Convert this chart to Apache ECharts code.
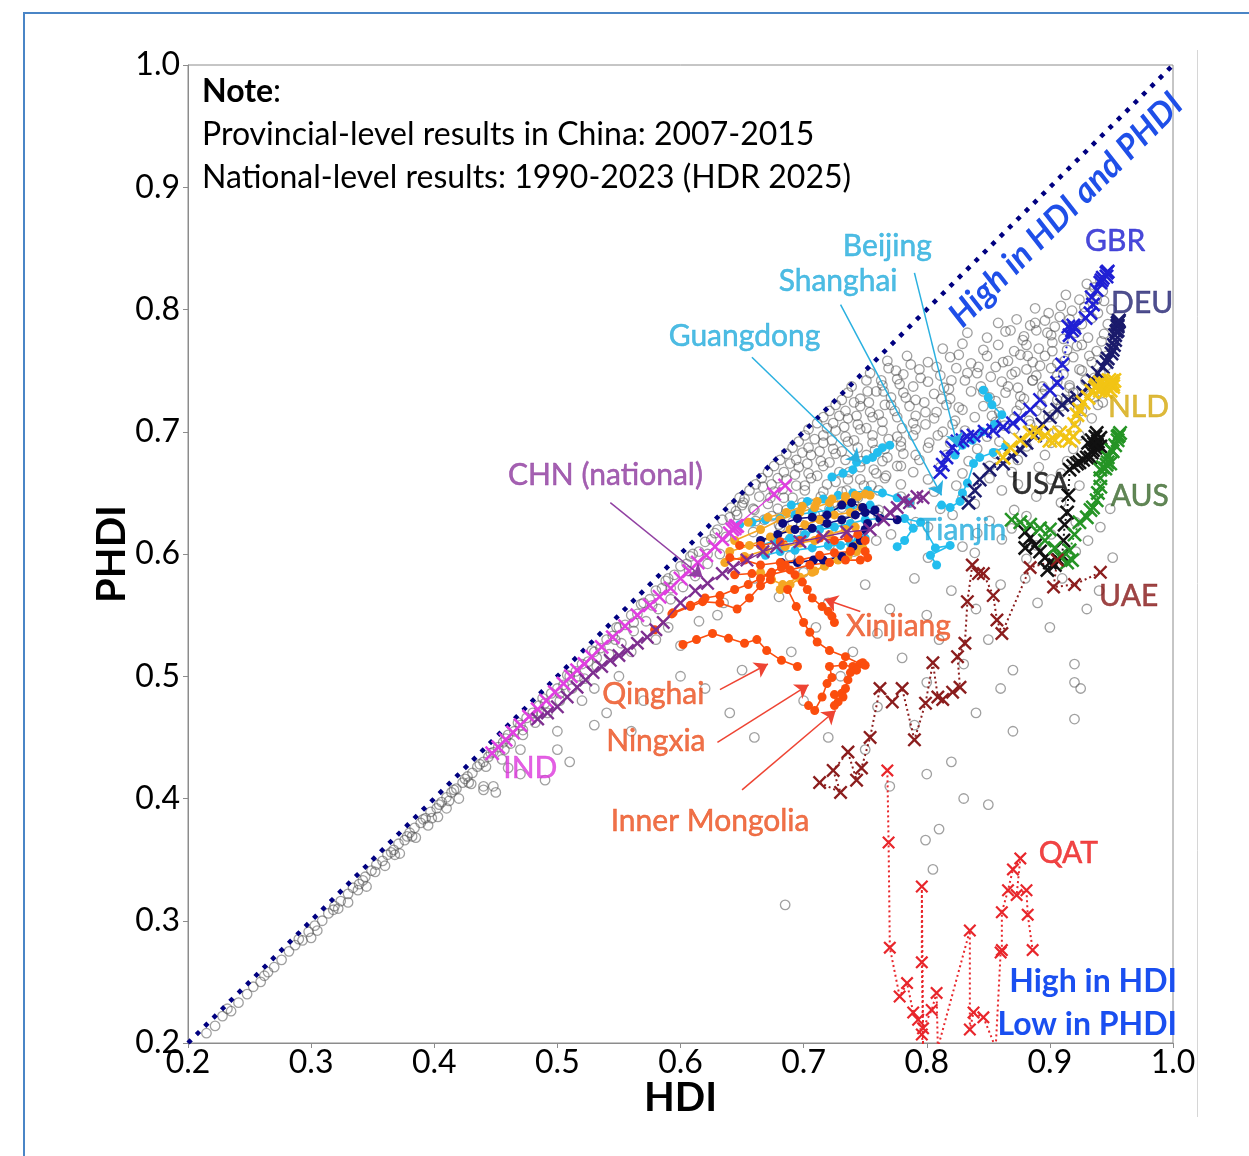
<!DOCTYPE html>
<html><head><meta charset="utf-8">
<script src="https://cdn.jsdelivr.net/npm/echarts@6/dist/echarts.min.js"></script>
<style>html,body{margin:0;padding:0;background:#fff}#c{width:1249px;height:1156px}</style>
</head><body><div id="c"></div>
<script>
// ---------------- DATA ----------------
const axisTicks = [0.2,0.3,0.4,0.5,0.6,0.7,0.8,0.9,1.0];
const diagonal = [[0.2,0.2],[1.0,1.0]];

// background: all national & provincial results (grey hollow circles)
const greyBand = [[0.215,0.208],[0.222,0.214],[0.228,0.222],[0.235,0.226],[0.241,0.233],[0.248,0.240],[0.253,0.246],[0.259,0.250],[0.265,0.258],[0.270,0.262],[0.276,0.268],[0.282,0.275],[0.287,0.280],[0.293,0.284],[0.298,0.291],[0.303,0.296],[0.309,0.300],[0.314,0.306],[0.319,0.312],[0.324,0.316],[0.330,0.322],[0.334,0.327],[0.339,0.330],[0.344,0.336],[0.349,0.341],[0.353,0.346],[0.358,0.349],[0.362,0.354],[0.367,0.358],[0.371,0.363],[0.376,0.366],[0.380,0.372],[0.384,0.376],[0.389,0.380],[0.393,0.384],[0.397,0.389],[0.402,0.392],[0.406,0.397],[0.410,0.401],[0.414,0.405],[0.418,0.408],[0.423,0.413],[0.427,0.418],[0.431,0.421],[0.435,0.426],[0.440,0.430],[0.444,0.434],[0.448,0.438],[0.452,0.442],[0.456,0.446],
[0.300,0.286],[0.345,0.328],[0.372,0.355],[0.385,0.368],[0.395,0.378],[0.403,0.385],[0.410,0.392],[0.420,0.400],[0.430,0.412],[0.440,0.407],[0.448,0.410],[0.455,0.432],[0.330,0.315],[0.360,0.345],
[0.232,0.228],[0.262,0.255],[0.290,0.285],[0.318,0.309],[0.342,0.333],[0.365,0.356],[0.378,0.369],[0.391,0.383],[0.404,0.395],[0.416,0.407],[0.425,0.416],[0.437,0.428],[0.446,0.437],[0.458,0.449],
[0.460,0.452],[0.465,0.455],[0.470,0.460],[0.475,0.466],[0.480,0.470],[0.485,0.476],[0.490,0.478],[0.495,0.486],[0.500,0.490],[0.505,0.493],[0.510,0.500],[0.515,0.504],[0.520,0.510],[0.525,0.512],[0.530,0.520],[0.535,0.523],[0.540,0.530],[0.545,0.533],[0.550,0.540],[0.555,0.542],[0.560,0.550],[0.565,0.551],[0.570,0.560],[0.575,0.563],[0.580,0.570],[0.585,0.572],[0.590,0.580],[0.595,0.583],[0.600,0.590],[0.605,0.592],[0.610,0.600],[0.615,0.602],[0.620,0.610],[0.625,0.612],[0.630,0.620],
[0.462,0.445],[0.472,0.452],[0.482,0.462],[0.492,0.470],[0.502,0.480],[0.512,0.490],[0.522,0.498],[0.532,0.508],[0.542,0.518],[0.552,0.527],[0.562,0.537],[0.572,0.545],[0.582,0.555],[0.592,0.563],[0.602,0.573],[0.612,0.582],[0.622,0.592],[0.632,0.600],
[0.468,0.462],[0.488,0.482],[0.508,0.501],[0.528,0.521],[0.548,0.540],[0.568,0.559],[0.588,0.578],[0.608,0.598],[0.628,0.617],[0.640,0.630],[0.645,0.635],[0.650,0.640],
[0.305,0.292],[0.322,0.310],[0.338,0.325],[0.352,0.340],[0.368,0.354],[0.382,0.369],[0.398,0.384],[0.412,0.398],[0.428,0.413],[0.442,0.426],[0.457,0.440],[0.472,0.456],[0.487,0.470],[0.502,0.486],[0.517,0.500],[0.532,0.515],[0.547,0.530],[0.562,0.544],[0.577,0.558],[0.592,0.572],[0.607,0.586],[0.622,0.600],[0.637,0.614]];
const greyCloud = [[0.930,0.821],[0.936,0.818],[0.941,0.824],
[0.913,0.812],[0.924,0.808],[0.933,0.813],[0.944,0.807],
[0.888,0.801],[0.899,0.797],[0.909,0.803],[0.918,0.799],[0.928,0.802],[0.939,0.797],[0.950,0.800],
[0.858,0.789],[0.873,0.792],[0.884,0.787],[0.896,0.791],[0.904,0.786],[0.916,0.792],[0.926,0.788],[0.934,0.793],[0.947,0.788],
[0.833,0.781],[0.849,0.777],[0.864,0.782],[0.879,0.778],[0.889,0.783],[0.901,0.779],[0.911,0.776],[0.921,0.781],[0.931,0.777],[0.944,0.780],
[0.813,0.768],[0.829,0.772],[0.846,0.767],[0.858,0.771],[0.871,0.766],[0.881,0.771],[0.891,0.768],[0.902,0.773],[0.914,0.767],[0.926,0.771],[0.938,0.766],[0.951,0.770],
[0.768,0.758],[0.784,0.762],[0.801,0.757],[0.819,0.761],[0.836,0.756],[0.849,0.762],[0.866,0.758],[0.876,0.763],[0.886,0.757],[0.896,0.762],[0.906,0.756],[0.919,0.761],[0.934,0.757],[0.946,0.762],
[0.754,0.748],[0.769,0.752],[0.781,0.747],[0.794,0.751],[0.811,0.746],[0.824,0.752],[0.841,0.748],[0.856,0.753],[0.869,0.747],[0.881,0.751],[0.889,0.746],[0.901,0.752],[0.911,0.747],[0.924,0.751],[0.941,0.748],
[0.739,0.737],[0.751,0.742],[0.764,0.738],[0.776,0.743],[0.789,0.737],[0.801,0.741],[0.814,0.736],[0.831,0.742],[0.844,0.737],[0.861,0.741],[0.874,0.736],[0.886,0.742],[0.894,0.737],[0.906,0.741],[0.916,0.736],[0.929,0.742],[0.944,0.738],
[0.731,0.726],[0.736,0.732],[0.746,0.727],[0.759,0.733],[0.771,0.728],[0.781,0.732],[0.791,0.726],[0.806,0.731],[0.819,0.727],[0.836,0.733],[0.851,0.728],[0.864,0.732],[0.879,0.727],[0.894,0.731],[0.906,0.726],[0.919,0.732],[0.936,0.728],
[0.721,0.717],[0.726,0.722],[0.734,0.717],[0.746,0.721],[0.754,0.716],[0.766,0.722],[0.774,0.717],[0.786,0.721],[0.799,0.716],[0.816,0.722],[0.829,0.718],[0.846,0.721],[0.859,0.716],[0.876,0.722],[0.889,0.717],[0.909,0.721],[0.926,0.717],[0.939,0.722],
[0.711,0.707],[0.716,0.712],[0.724,0.707],[0.736,0.711],[0.744,0.706],[0.756,0.712],[0.764,0.708],[0.776,0.712],[0.789,0.707],[0.806,0.711],[0.821,0.706],[0.839,0.712],[0.856,0.708],[0.871,0.711],[0.884,0.706],[0.899,0.712],[0.921,0.708],[0.934,0.711],
[0.701,0.697],[0.704,0.702],[0.716,0.697],[0.726,0.701],[0.734,0.696],[0.746,0.702],[0.756,0.697],[0.764,0.701],[0.776,0.696],[0.791,0.702],[0.809,0.697],[0.831,0.701],[0.849,0.696],[0.871,0.702],[0.889,0.698],[0.906,0.701],[0.924,0.697],
[0.691,0.687],[0.696,0.692],[0.704,0.687],[0.716,0.691],[0.724,0.686],[0.736,0.692],[0.744,0.687],[0.756,0.691],[0.766,0.686],[0.779,0.692],[0.801,0.687],[0.819,0.691],[0.841,0.686],[0.859,0.692],[0.881,0.688],[0.901,0.691],[0.919,0.686],
[0.681,0.677],[0.686,0.682],[0.694,0.677],[0.706,0.681],[0.714,0.676],[0.726,0.682],[0.734,0.677],[0.751,0.681],[0.764,0.676],[0.781,0.682],[0.794,0.677],[0.816,0.681],[0.834,0.676],[0.856,0.682],[0.874,0.677],[0.896,0.681],[0.914,0.676],[0.936,0.682],
[0.671,0.667],[0.676,0.672],[0.684,0.667],[0.696,0.671],[0.704,0.666],[0.716,0.672],[0.729,0.667],[0.746,0.671],[0.759,0.666],[0.776,0.672],[0.789,0.667],[0.811,0.671],[0.829,0.666],[0.851,0.672],[0.869,0.667],[0.891,0.671],[0.909,0.666],
[0.661,0.657],[0.666,0.662],[0.674,0.657],[0.686,0.661],[0.694,0.656],[0.706,0.662],[0.719,0.657],[0.736,0.661],[0.749,0.656],[0.766,0.662],[0.779,0.657],[0.801,0.661],[0.824,0.656],[0.851,0.662],[0.874,0.657],[0.901,0.661],[0.924,0.656],
[0.648,0.646],[0.656,0.652],[0.664,0.647],[0.676,0.651],[0.684,0.646],[0.701,0.652],[0.714,0.647],[0.731,0.651],[0.744,0.646],[0.761,0.652],[0.779,0.647],[0.806,0.651],[0.829,0.646],[0.861,0.652],[0.889,0.647],
[0.641,0.638],[0.651,0.642],[0.659,0.637],[0.671,0.641],[0.686,0.636],[0.699,0.642],[0.721,0.637],[0.741,0.641],[0.761,0.636],[0.786,0.642],[0.811,0.637],[0.839,0.641],[0.871,0.636],[0.909,0.642],[0.949,0.637],
[0.634,0.628],[0.646,0.632],[0.661,0.627],[0.674,0.631],[0.691,0.626],[0.709,0.632],[0.736,0.627],[0.761,0.631],[0.791,0.626],[0.821,0.632],[0.851,0.627],[0.881,0.631],[0.921,0.626],
[0.659,0.618],[0.681,0.622],[0.701,0.617],[0.729,0.621],[0.771,0.616],[0.801,0.622],[0.841,0.617],[0.869,0.621],[0.901,0.616],[0.941,0.622],
[0.671,0.608],[0.689,0.612],[0.721,0.607],[0.759,0.611],[0.829,0.606],[0.861,0.612],[0.889,0.607],[0.931,0.611],
[0.689,0.598],[0.741,0.602],[0.801,0.597],[0.839,0.601],[0.881,0.596],[0.921,0.602],[0.951,0.597]];
const greyDense = [[0.652,0.645],[0.667,0.655],[0.679,0.662],[0.689,0.674],[0.699,0.683],[0.709,0.694],[0.719,0.703],[0.729,0.713],[0.741,0.724],[0.752,0.733],[0.763,0.742],[0.775,0.750],
[0.660,0.636],[0.673,0.646],[0.683,0.653],[0.693,0.665],[0.703,0.674],[0.713,0.684],[0.723,0.693],[0.733,0.704],[0.743,0.713],[0.753,0.724],[0.765,0.733],[0.778,0.739],
[0.668,0.628],[0.679,0.637],[0.691,0.646],[0.701,0.656],[0.711,0.664],[0.721,0.675],[0.731,0.684],[0.741,0.693],[0.751,0.703],[0.761,0.714],[0.771,0.722],[0.783,0.728],
[0.680,0.624],[0.694,0.632],[0.706,0.641],[0.716,0.651],[0.726,0.659],[0.737,0.667],[0.747,0.676],[0.758,0.685],[0.769,0.694],[0.780,0.703],[0.791,0.713],[0.798,0.724],
[0.698,0.624],[0.712,0.633],[0.724,0.642],[0.735,0.652],[0.746,0.661],[0.757,0.669],[0.768,0.679],[0.779,0.688],[0.789,0.697],[0.799,0.706],[0.808,0.716],[0.812,0.727],
[0.716,0.628],[0.731,0.638],[0.743,0.647],[0.755,0.656],[0.767,0.664],[0.779,0.672],[0.791,0.681],[0.802,0.691],[0.813,0.700],[0.823,0.709],[0.826,0.720],[0.818,0.735],
[0.842,0.753],[0.852,0.745],[0.862,0.757],[0.872,0.749],[0.882,0.762],[0.892,0.754],[0.902,0.766],[0.912,0.758],[0.922,0.770],[0.932,0.762],[0.942,0.774],
[0.846,0.733],[0.856,0.725],[0.866,0.737],[0.876,0.729],[0.886,0.742],[0.896,0.734],[0.906,0.746],[0.916,0.738],[0.926,0.750],[0.936,0.744],[0.946,0.754],
[0.853,0.713],[0.863,0.705],[0.873,0.717],[0.883,0.709],[0.893,0.722],[0.903,0.714],[0.913,0.726],[0.923,0.718],[0.933,0.730],[0.943,0.724],
[0.868,0.783],[0.878,0.775],[0.888,0.789],[0.898,0.781],[0.908,0.794],[0.918,0.786],[0.928,0.797],[0.938,0.808],[0.943,0.815],
[0.820,0.742],[0.826,0.763],[0.833,0.748],[0.808,0.753],[0.795,0.744],[0.787,0.755]];
const greySparse = [[0.660,0.580],[0.700,0.585],[0.750,0.575],[0.790,0.580],[0.820,0.570],[0.860,0.575],[0.880,0.580],[0.910,0.580],[0.940,0.570],[0.680,0.565],[0.720,0.560],[0.770,0.555],[0.800,0.550],[0.840,0.555],[0.890,0.560],[0.930,0.555],[0.710,0.540],[0.760,0.535],[0.810,0.530],[0.850,0.530],[0.900,0.540],[0.690,0.520],[0.740,0.520],[0.780,0.515],[0.830,0.510],[0.870,0.505],[0.920,0.510],[0.730,0.500],[0.800,0.495],[0.860,0.490],[0.920,0.495],[0.925,0.490],[0.700,0.480],[0.760,0.475],[0.840,0.470],[0.790,0.460],[0.870,0.455],[0.720,0.450],[0.750,0.440],[0.820,0.430],[0.800,0.420],[0.770,0.410],[0.830,0.400],[0.810,0.375],[0.850,0.395],[0.920,0.465],[0.650,0.505],[0.620,0.490],[0.640,0.470],[0.660,0.450],[0.600,0.500],[0.630,0.550],[0.580,0.530],[0.550,0.500],[0.520,0.480],[0.560,0.455],[0.500,0.440],[0.510,0.430],[0.530,0.460],[0.470,0.420],[0.440,0.410],[0.450,0.405],[0.490,0.415],[0.460,0.425],[0.799,0.366],[0.805,0.342],[0.685,0.313],
[0.470,0.440],[0.500,0.455],[0.530,0.490],[0.560,0.520],[0.590,0.540],[0.615,0.545],[0.635,0.560],[0.600,0.525],[0.570,0.480],[0.540,0.470]];

// national-level trajectories 1990-2023 [HDI, PHDI]
const IND = [[0.447,0.437],[0.452,0.442],[0.458,0.448],[0.464,0.454],[0.470,0.460],[0.477,0.467],[0.484,0.473],[0.491,0.480],[0.498,0.487],[0.505,0.494],[0.511,0.500],[0.516,0.505],[0.522,0.510],[0.528,0.516],[0.536,0.524],[0.545,0.532],[0.555,0.541],[0.565,0.550],[0.575,0.558],[0.583,0.565],[0.592,0.572],[0.600,0.580],[0.607,0.586],[0.614,0.593],[0.621,0.599],[0.628,0.606],[0.634,0.612],[0.640,0.617],[0.644,0.621],[0.646,0.623],[0.645,0.623],[0.642,0.620],[0.676,0.649],[0.685,0.656]];
const CHN = [[0.484,0.465],[0.492,0.470],[0.500,0.475],[0.508,0.483],[0.516,0.491],[0.523,0.497],[0.529,0.503],[0.536,0.508],[0.543,0.513],[0.550,0.517],[0.557,0.521],[0.565,0.527],[0.573,0.532],[0.580,0.538],[0.586,0.544],[0.600,0.560],[0.612,0.570],[0.622,0.576],[0.634,0.584],[0.643,0.589],[0.654,0.595],[0.667,0.602],[0.678,0.606],[0.697,0.610],[0.716,0.614],[0.735,0.618],[0.754,0.620],[0.765,0.628],[0.770,0.634],[0.776,0.638],[0.781,0.644],[0.786,0.642],[0.792,0.647],[0.797,0.646]];
const GBR = [[0.811,0.667],[0.813,0.673],[0.816,0.679],[0.821,0.687],[0.825,0.692],[0.829,0.693],[0.833,0.696],[0.838,0.697],[0.847,0.700],[0.854,0.701],[0.862,0.704],[0.870,0.707],[0.876,0.711],[0.884,0.718],[0.892,0.726],[0.900,0.734],[0.906,0.740],[0.910,0.755],[0.916,0.779],[0.918,0.783],[0.920,0.785],[0.915,0.786],[0.919,0.787],[0.929,0.793],[0.933,0.797],[0.935,0.804],[0.934,0.810],[0.938,0.816],[0.941,0.822],[0.943,0.826],[0.946,0.830],[0.942,0.824],[0.946,0.827],[0.947,0.831]];
const DEU = [[0.834,0.642],[0.839,0.652],[0.843,0.661],[0.851,0.669],[0.862,0.674],[0.869,0.680],[0.876,0.685],[0.881,0.691],[0.888,0.697],[0.894,0.706],[0.900,0.712],[0.906,0.718],[0.910,0.722],[0.915,0.726],[0.922,0.728],[0.927,0.732],[0.931,0.737],[0.935,0.742],[0.939,0.748],[0.943,0.753],[0.946,0.757],[0.947,0.760],[0.950,0.764],[0.951,0.767],[0.952,0.771],[0.953,0.775],[0.953,0.779],[0.954,0.782],[0.955,0.786],[0.955,0.789],[0.956,0.791],[0.955,0.787],[0.955,0.783],[0.956,0.790]];
const NLD = [[0.862,0.679],[0.868,0.687],[0.876,0.693],[0.884,0.699],[0.890,0.700],[0.896,0.697],[0.900,0.693],[0.904,0.693],[0.908,0.699],[0.912,0.695],[0.916,0.693],[0.919,0.696],[0.920,0.706],[0.922,0.714],[0.924,0.718],[0.927,0.724],[0.931,0.728],[0.934,0.733],[0.937,0.736],[0.938,0.738],[0.941,0.740],[0.943,0.737],[0.945,0.739],[0.946,0.737],[0.949,0.738],[0.950,0.741],[0.951,0.737],[0.949,0.734],[0.945,0.733],[0.941,0.734],[0.948,0.742],[0.950,0.740],[0.952,0.742],[0.951,0.739]];
const USA = [[0.880,0.618],[0.884,0.613],[0.880,0.605],[0.888,0.607],[0.892,0.602],[0.896,0.597],[0.900,0.593],[0.898,0.587],[0.904,0.591],[0.907,0.595],[0.910,0.599],[0.911,0.611],[0.912,0.624],[0.914,0.634],[0.915,0.648],[0.916,0.669],[0.919,0.672],[0.922,0.674],[0.924,0.675],[0.927,0.677],[0.930,0.679],[0.933,0.679],[0.934,0.683],[0.935,0.685],[0.937,0.687],[0.941,0.688],[0.938,0.689],[0.931,0.691],[0.934,0.693],[0.937,0.696],[0.938,0.699],[0.941,0.695],[0.939,0.692],[0.936,0.690]];
const AUS = [[0.869,0.628],[0.876,0.626],[0.884,0.624],[0.892,0.621],[0.900,0.620],[0.896,0.611],[0.904,0.605],[0.908,0.598],[0.914,0.593],[0.918,0.595],[0.916,0.603],[0.920,0.616],[0.924,0.626],[0.930,0.630],[0.933,0.636],[0.935,0.638],[0.938,0.644],[0.939,0.650],[0.941,0.655],[0.941,0.662],[0.941,0.669],[0.943,0.671],[0.946,0.673],[0.949,0.674],[0.947,0.679],[0.950,0.685],[0.953,0.689],[0.955,0.693],[0.957,0.699],[0.955,0.696],[0.951,0.684],[0.945,0.670],[0.947,0.675],[0.956,0.697]];
const UAE = [[0.713,0.413],[0.730,0.405],[0.724,0.423],[0.736,0.438],[0.743,0.415],[0.747,0.425],[0.754,0.450],[0.762,0.490],[0.772,0.479],[0.780,0.490],[0.790,0.448],[0.799,0.478],[0.805,0.511],[0.809,0.483],[0.813,0.481],[0.821,0.487],[0.827,0.491],[0.825,0.516],[0.831,0.527],[0.833,0.561],[0.837,0.591],[0.842,0.584],[0.846,0.584],[0.854,0.566],[0.857,0.546],[0.861,0.535],[0.884,0.589],[0.906,0.595],[0.903,0.573],[0.920,0.575],[0.941,0.585]];
const QAT = [[0.768,0.423],[0.769,0.364],[0.770,0.278],[0.778,0.238],[0.784,0.249],[0.789,0.225],[0.793,0.219],[0.796,0.207],[0.797,0.198],[0.796,0.266],[0.796,0.328],[0.797,0.212],[0.804,0.227],[0.808,0.241],[0.809,0.196],[0.835,0.292],[0.835,0.211],[0.838,0.225],[0.846,0.221],[0.856,0.196],[0.860,0.274],[0.861,0.276],[0.861,0.307],[0.866,0.325],[0.870,0.342],[0.876,0.351],[0.873,0.321],[0.881,0.325],[0.882,0.305],[0.886,0.276]];

// provincial-level trajectories 2007-2015 [HDI, PHDI]
const provGuangdong = [[0.723,0.663],[0.732,0.666],[0.740,0.669],[0.743,0.675],[0.751,0.677],[0.756,0.679],[0.760,0.683],[0.764,0.687],[0.770,0.689]];
const provBeijing = [[0.823,0.681],[0.829,0.689],[0.837,0.693],[0.845,0.700],[0.855,0.706],[0.861,0.714],[0.853,0.722],[0.850,0.728],[0.846,0.734]];
const provShanghai = [[0.812,0.640],[0.819,0.638],[0.827,0.643],[0.829,0.650],[0.833,0.658],[0.838,0.674],[0.843,0.679],[0.854,0.683],[0.864,0.688]];
const provTianjin = [[0.776,0.606],[0.782,0.611],[0.789,0.621],[0.782,0.629],[0.795,0.626],[0.807,0.605],[0.819,0.607],[0.803,0.599],[0.808,0.591]];
const provCyanA = [[0.648,0.624],[0.658,0.626],[0.669,0.628],[0.681,0.629],[0.693,0.632],[0.707,0.634],[0.721,0.636],[0.738,0.638],[0.754,0.640]];
const provCyanB = [[0.665,0.607],[0.677,0.611],[0.689,0.613],[0.701,0.616],[0.713,0.620],[0.725,0.622],[0.738,0.625],[0.750,0.628],[0.762,0.629]];
const provCyanC = [[0.690,0.640],[0.703,0.643],[0.716,0.645],[0.728,0.648],[0.740,0.650],[0.752,0.652],[0.764,0.650],[0.776,0.646],[0.786,0.642]];
const provCyanD = [[0.669,0.599],[0.681,0.602],[0.693,0.603],[0.707,0.605],[0.720,0.607],[0.730,0.607],[0.738,0.609],[0.744,0.611],[0.750,0.613]];
const provOrangeA = [[0.644,0.611],[0.665,0.620],[0.681,0.628],[0.697,0.634],[0.709,0.638],[0.721,0.642],[0.734,0.644],[0.744,0.647],[0.754,0.648]];
const provOrangeB = [[0.640,0.602],[0.656,0.607],[0.673,0.614],[0.689,0.620],[0.701,0.624],[0.713,0.628],[0.725,0.632],[0.738,0.634],[0.747,0.638]];
const provOrangeC = [[0.655,0.626],[0.671,0.630],[0.686,0.634],[0.699,0.639],[0.711,0.643],[0.723,0.645],[0.734,0.647],[0.742,0.648],[0.750,0.649]];
const provOrangeD = [[0.636,0.593],[0.652,0.598],[0.669,0.603],[0.685,0.606],[0.697,0.609],[0.709,0.611],[0.721,0.616],[0.734,0.620],[0.742,0.622]];
const provOrangeE = [[0.665,0.585],[0.674,0.579],[0.683,0.575],[0.697,0.581],[0.709,0.586],[0.721,0.593],[0.730,0.598],[0.738,0.603],[0.743,0.607]];
const provOrangeF = [[0.681,0.571],[0.689,0.575],[0.697,0.580],[0.707,0.585],[0.717,0.590],[0.728,0.595],[0.736,0.598],[0.743,0.602],[0.748,0.605]];
const provNavyA = [[0.683,0.625],[0.695,0.629],[0.707,0.630],[0.719,0.632],[0.731,0.640],[0.739,0.642],[0.748,0.638],[0.762,0.629],[0.776,0.628]];
const provNavyB = [[0.682,0.593],[0.695,0.593],[0.708,0.595],[0.716,0.595],[0.731,0.598],[0.740,0.606],[0.746,0.611],[0.750,0.620],[0.752,0.625]];
const provNavyC = [[0.665,0.611],[0.679,0.616],[0.693,0.620],[0.707,0.621],[0.719,0.625],[0.731,0.628],[0.742,0.632],[0.750,0.634],[0.758,0.636]];
const provQinghai = [[0.602,0.526],[0.613,0.530],[0.626,0.535],[0.639,0.531],[0.652,0.527],[0.662,0.530],[0.670,0.521],[0.682,0.513],[0.695,0.508]];
const provNingxia = [[0.704,0.476],[0.709,0.472],[0.715,0.483],[0.719,0.494],[0.723,0.499],[0.721,0.508],[0.732,0.509],[0.740,0.508],[0.748,0.511]];
const provInnerMongolia = [[0.687,0.571],[0.694,0.557],[0.700,0.544],[0.705,0.536],[0.711,0.528],[0.721,0.521],[0.734,0.516],[0.746,0.510],[0.750,0.509]];
const provXinjiang = [[0.685,0.591],[0.693,0.583],[0.699,0.577],[0.703,0.571],[0.707,0.564],[0.715,0.557],[0.720,0.553],[0.723,0.549],[0.725,0.544]];
const provRedA = [[0.579,0.538],[0.593,0.551],[0.608,0.557],[0.618,0.561],[0.632,0.560],[0.646,0.555],[0.656,0.564],[0.665,0.574],[0.673,0.579]];
const provRedB = [[0.594,0.552],[0.608,0.558],[0.620,0.564],[0.632,0.566],[0.644,0.571],[0.655,0.575],[0.665,0.580],[0.674,0.585],[0.682,0.589]];
const provRedC = [[0.640,0.597],[0.652,0.595],[0.665,0.591],[0.681,0.593],[0.697,0.595],[0.713,0.599],[0.725,0.601],[0.738,0.602],[0.750,0.602]];
const provRedD = [[0.644,0.583],[0.658,0.584],[0.673,0.583],[0.689,0.587],[0.705,0.591],[0.721,0.593],[0.734,0.595],[0.746,0.595],[0.752,0.597]];
const provRedE = [[0.648,0.607],[0.665,0.607],[0.681,0.610],[0.697,0.611],[0.713,0.613],[0.725,0.611],[0.736,0.613],[0.744,0.616],[0.750,0.611]];
const provRedF = [[0.743,0.505],[0.738,0.503],[0.736,0.497],[0.734,0.490],[0.731,0.486],[0.725,0.485],[0.732,0.483],[0.728,0.479],[0.725,0.476]];

// annotation texts
const noteTitle = 'Note';
const noteLines = ['Provincial-level results in China: 2007-2015','National-level results: 1990-2023 (HDR 2025)'];
const diagText = 'High in HDI and PHDI';
const cornerText = ['High in HDI','Low in PHDI'];

// ---------------- STYLE / LAYOUT ----------------
const FONT = 'Lato';
const C = {cyan:'#22bdee', orange:'#f5a623', red:'#fb4d0d', navy:'#0b0b7e',
  IND:'#e040e0', CHN:'#7e2f90', GBR:'#2020d4', DEU:'#1b1b6c', NLD:'#f2c414', USA:'#111111',
  AUS:'#259425', UAE:'#8b1d1d', QAT:'#e8262b'};
const XPATH = 'path://M0,1.2 L1.2,0 L5,3.8 L8.8,0 L10,1.2 L6.2,5 L10,8.8 L8.8,10 L5,6.2 L1.2,10 L0,8.8 L3.8,5 Z';

// label positions (data coordinates)
const labelDefs = [
  ['GBR',[0.953,0.856],'#1c1cd0'],['DEU',[0.975,0.805],'#232372'],['NLD',[0.972,0.720],'#d4a80a'],
  ['USA',[0.892,0.657],'#000000'],['AUS',[0.973,0.647],'#3a682c'],['UAE',[0.964,0.565],'#861616'],
  ['QAT',[0.915,0.355],'#ec1717'],['IND',[0.478,0.425],'#dc38dc'],['CHN (national)',[0.539,0.664],'#8d389e'],
  ['Guangdong',[0.652,0.778],'#22abdc'],['Beijing',[0.768,0.852],'#22abdc'],['Shanghai',[0.728,0.823],'#22abdc'],
  ['Tianjin',[0.829,0.619],'#22abdc'],['Xinjiang',[0.777,0.541],'#eb4d1b'],['Qinghai',[0.578,0.485],'#eb4d1b'],
  ['Ningxia',[0.580,0.447],'#eb4d1b'],['Inner Mongolia',[0.624,0.381],'#eb4d1b']
];
const arrowDefs = [
  [[0.658,0.761],[0.746,0.675],'#2ab0e0'],
  [[0.730,0.804],[0.812,0.648],'#2ab0e0'],
  [[0.790,0.830],[0.825,0.688],'#2ab0e0'],
  [[0.543,0.642],[0.618,0.581],'#9140a2'],
  [[0.746,0.553],[0.717,0.563],'#ee4433'],
  [[0.632,0.489],[0.671,0.510],'#ee4433'],
  [[0.630,0.446],[0.704,0.493],'#ee4433'],
  [[0.650,0.407],[0.726,0.472],'#ee4433']
];

const series = [];
series.push({type:'scatter', data: greyBand.concat(greyCloud, greyDense, greySparse), symbol:'circle', symbolSize:9.5,
  itemStyle:{color:'rgba(255,255,255,0)', borderColor:'rgba(80,80,80,0.68)', borderWidth:1.3}, silent:true, z:1});
series.push({type:'line', data: diagonal, symbol:'none', lineStyle:{color:'#000080', width:4.5, type:[4.5,7.3]}, silent:true, z:2});

function prov(data, color){
  series.push({type:'line', data, symbol:'circle', symbolSize:9, showSymbol:true,
    itemStyle:{color}, lineStyle:{color, width:1.6}, silent:true, z:3});
}
[provCyanA,provCyanB,provCyanC,provCyanD,provGuangdong,provBeijing,provShanghai,provTianjin].forEach(d=>prov(d,C.cyan));
[provOrangeA,provOrangeB,provOrangeC,provOrangeD,provOrangeE,provOrangeF].forEach(d=>prov(d,C.orange));
[provNavyA,provNavyB,provNavyC].forEach(d=>prov(d,C.navy));
[provQinghai,provNingxia,provInnerMongolia,provXinjiang,provRedA,provRedB,provRedC,provRedD,provRedE,provRedF].forEach(d=>prov(d,C.red));

function nat(data, color, dashed, size){
  series.push({type:'line', data, symbol:XPATH, symbolSize:size||14, showSymbol:true,
    itemStyle:{color}, lineStyle:{color, width: dashed?2:1.3, type: dashed?[2,3]:'solid'}, silent:true, z:4});
}
nat(IND, C.IND, false, 15);
nat(CHN, C.CHN, false, 14);
nat(GBR, C.GBR, true, 15);
nat(DEU, C.DEU, true, 15);
nat(NLD, C.NLD, true, 16);
nat(USA, C.USA, true, 15);
nat(AUS, C.AUS, true, 15);
nat(UAE, C.UAE, true, 14);
nat(QAT, C.QAT, true, 13);

series.push({type:'lines', coordinateSystem:'cartesian2d', symbol:['none','arrow'], symbolSize:13, silent:true, z:6,
  lineStyle:{width:1.5, opacity:1, curveness:0},
  data: arrowDefs.map(a=>({coords:[a[0],a[1]], lineStyle:{color:a[2]}}))});
series.push({type:'scatter', symbolSize:1, itemStyle:{color:'rgba(0,0,0,0)'}, silent:true, z:7,
  data: labelDefs.map(l=>({name:l[0], value:l[1], label:{color:l[2], textBorderColor:l[2], textBorderWidth:0.5}})),
  label:{show:true, position:'inside', formatter:'{b}', fontSize:30, fontFamily:FONT}});

const chart = echarts.init(document.getElementById('c'), null, {renderer:'canvas'});
const axisCommon = {type:'value', min:0.2, max:1.0, interval:0.1, splitLine:{show:false},
  axisLine:{show:true, lineStyle:{color:'#8c8c8c', width:1}},
  axisTick:{show:true, length:5, lineStyle:{color:'#8c8c8c'}},
  axisLabel:{color:'#000', fontSize:32, fontFamily:FONT, formatter:v=>v.toFixed(1)}};
chart.setOption({
  animation:false,
  backgroundColor:'#fff',
  grid:{left:188, top:65, width:985, height:978, show:true, borderColor:'#8c8c8c', borderWidth:1},
  xAxis:Object.assign({}, axisCommon, {name:'HDI', nameLocation:'middle', nameGap:35, nameMoveOverlap:false,
    nameTextStyle:{fontSize:40, fontWeight:'bold', fontFamily:FONT, color:'#000'},
    axisLabel:Object.assign({}, axisCommon.axisLabel, {margin:4})}),
  yAxis:Object.assign({}, axisCommon, {name:'PHDI', nameLocation:'middle', nameGap:56, nameRotate:90, nameMoveOverlap:false,
    nameTextStyle:{fontSize:40, fontWeight:'bold', fontFamily:FONT, color:'#000'},
    axisLabel:Object.assign({}, axisCommon.axisLabel, {margin:8})}),
  series,
  graphic:[
    {type:'rect', silent:true, z:-10, shape:{x:24, y:13, width:1240, height:1170}, style:{fill:'none', stroke:'#4a85c6', lineWidth:2}},
    {type:'line', silent:true, shape:{x1:1197.5, y1:50, x2:1197.5, y2:1117}, style:{stroke:'#d6d6d6', lineWidth:1}},
    {type:'text', silent:true, x:202, y:92, z:10, style:{text:'{b|'+noteTitle+'}{n|:}', verticalAlign:'middle', align:'left',
      rich:{b:{fontSize:32, fontWeight:'bold', fontFamily:FONT, fill:'#000'}, n:{fontSize:32, fontFamily:FONT, fill:'#000'}}}},
    {type:'text', silent:true, x:202, y:135, z:10, style:{text:noteLines[0], font:'32px '+FONT, fill:'#000', verticalAlign:'middle', align:'left'}},
    {type:'text', silent:true, x:202, y:178, z:10, style:{text:noteLines[1], font:'32px '+FONT, fill:'#000', verticalAlign:'middle', align:'left'}},
    {type:'text', silent:true, x:1066, y:210, rotation:Math.PI/4, z:10, style:{text:diagText, font:'italic bold 34px '+FONT, fill:'#1f4fe8', align:'center', verticalAlign:'middle'}},
    {type:'text', silent:true, x:1177, y:982, z:10, style:{text:cornerText[0], font:'bold 32px '+FONT, fill:'#1a4ff0', align:'right', verticalAlign:'middle'}},
    {type:'text', silent:true, x:1177, y:1025, z:10, style:{text:cornerText[1], font:'bold 32px '+FONT, fill:'#1a4ff0', align:'right', verticalAlign:'middle'}}
  ]
});
</script></body></html>
